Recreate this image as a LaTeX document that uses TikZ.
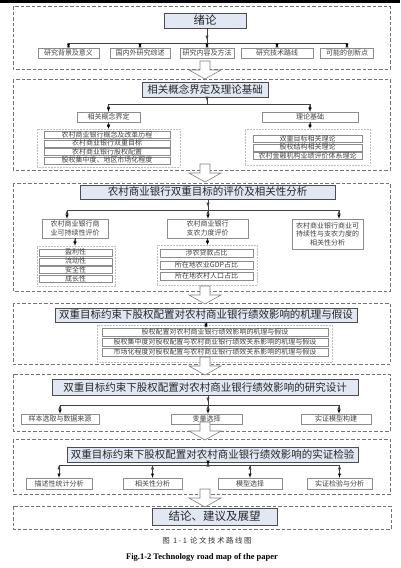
\documentclass[tikz,border=0pt]{standalone}
\usepackage{fontspec}
\setmainfont{Noto Sans CJK SC}
\newfontfamily\figfont{Liberation Serif}
\usetikzlibrary{arrows,decorations.markings}
\definecolor{headfill}{RGB}{226,232,243}
\tikzset{
  >=latex,
  stage/.style = {draw=black!55, dash pattern=on 3.5pt off 2pt, line width=0.6pt},
  headbox/.style = {draw=black!70, fill=headfill, inner sep=0, text=black!85,
                    font=\fontsize{10.5}{12}\selectfont, minimum height=15pt},
  subbox/.style = {draw=black!45, fill=white, inner sep=0, text=black!75,
                   font=\fontsize{7}{8.5}\selectfont, minimum height=10pt, align=center},
  entry/.style = {subbox, minimum height=7pt, text height=5.8pt, text depth=1.2pt},
  cluster/.style = {draw=black!25, dash pattern=on 0.7pt off 0.8pt, fill=white},
  link/.style = {draw=black!75, line width=0.5pt},
  spine/.style = {link, postaction={decorate},
                  decoration={markings, mark=at position -3pt with {\arrow{latex}}}},
  hollow/.pic = {\draw[black!50, fill=white, line width=0.6pt]
                 (-5,0) -- (5,0) -- (5,9) -- (16,9) -- (0,18) -- (-16,9) -- (-5,9) -- cycle;}
}

\begin{document}
\begin{tikzpicture}[x=1pt, y=-1pt]
\useasboundingbox (0,0) rectangle (400,568);
\fill[black] (0,0) rectangle (400,2.5);
% stage 1
\draw[stage] (13,6) rectangle (390,69);
\node[headbox, minimum width=82pt, font=\fontsize{11.5}{13}\selectfont] (t1) at (205,20.5) {绪论};
\coordinate (b1) at (207,43);
\node[subbox, minimum width=61pt] (c11) at (68.5,53) {研究背景及意义};
\node[subbox, minimum width=60pt] (c12) at (140,53) {国内外研究综述};
\node[subbox, minimum width=54pt] (c13) at (207,53) {研究内容及方法};
\node[subbox, minimum width=72pt] (c14) at (277,53) {研究技术路线};
\node[subbox, minimum width=53pt] (c15) at (347,53) {可能的创新点};
\draw[spine] (t1.south -| b1) -- (b1);
\draw[link] (c11 |- b1) -- (c15 |- b1);
\path[link, ->] (c11 |- b1) edge (c11.north);
\path[link, ->] (c12 |- b1) edge (c12.north);
\path[link, ->] (c13 |- b1) edge (c13.north);
\path[link, ->] (c14 |- b1) edge (c14.north);
\path[link, ->] (c15 |- b1) edge (c15.north);
% stage 2
\draw[stage] (13,79) rectangle (390,170);
\node[headbox, minimum width=126pt] (t2) at (205,89.5) {相关概念界定及理论基础};
\coordinate (b2) at (207,104);
\node[subbox, minimum width=63pt] (c21) at (108.5,117) {相关概念界定};
\node[subbox, minimum width=96pt] (c22) at (310,117) {理论基础};
\node[cluster, minimum width=143pt, minimum height=38pt] (g21) at (108.5,148) {};
\node[entry, minimum width=126pt] (i21) at (107,135) {农村商业银行概念及改革历程};
\node[entry, minimum width=126pt] (i22) at (107,143.5) {农村商业银行双重目标};
\node[entry, minimum width=126pt] (i23) at (107,152) {农村商业银行股权配置};
\node[entry, minimum width=126pt] (i24) at (107,160.5) {股权集中度、地区市场化程度};
\node[cluster, minimum width=125pt, minimum height=36pt] (g22) at (307.5,147) {};
\node[entry, minimum width=109pt] (i25) at (307.5,139) {双重目标相关理论};
\node[entry, minimum width=109pt] (i26) at (307.5,147.5) {股权结构相关理论};
\node[entry, minimum width=109pt] (i27) at (307.5,156) {农村金融机构业绩评价体系理论};
\draw[spine] (t2.south -| b2) -- (b2);
\draw[link] (c21 |- b2) -- (c22 |- b2);
\path[link, ->] (c21 |- b2) edge (c21.north);
\path[link, ->] (c22 |- b2) edge (c22.north);
\path[link, ->] (c21.south) edge (c21.south |- g21.north);
\path[link, ->] (c22.south) edge (c22.south |- g22.north);
% stage 3
\draw[stage] (13,183) rectangle (390,291);
\node[headbox, minimum width=255pt, minimum height=14pt] (t3) at (207.5,192) {农村商业银行双重目标的评价及相关性分析};
\coordinate (b3) at (208,210);
\coordinate (b3l) at (67,210);
\coordinate (b3r) at (339,210);
\node[subbox, minimum width=66pt, minimum height=19pt] (c31) at (75,228.5) {农村商业银行商\\业可持续性评价};
\node[subbox, minimum width=81pt, minimum height=19pt] (c32) at (207.5,228.5) {农村商业银行\\支农力度评价};
\node[subbox, minimum width=71pt, minimum height=30pt] (c33) at (327.5,234) {农村商业银行商业可\\持续性与支农力度的\\相关性分析};
\node[cluster, minimum width=78pt, minimum height=40pt] (g31) at (76,266) {};
\node[entry, minimum width=73pt] (i31) at (75.5,252.5) {盈利性};
\node[entry, minimum width=73pt] (i32) at (75.5,261.3) {流动性};
\node[entry, minimum width=73pt] (i33) at (75.5,270) {安全性};
\node[entry, minimum width=73pt] (i34) at (75.5,278.8) {成长性};
\node[cluster, minimum width=100pt, minimum height=40pt] (g32) at (207,265) {};
\node[entry, minimum width=93pt, minimum height=8pt] (i35) at (206.5,253) {涉农贷款占比};
\node[entry, minimum width=93pt, minimum height=8pt] (i36) at (206.5,265) {所在地农业GDP占比};
\node[entry, minimum width=93pt, minimum height=8pt] (i37) at (206.5,276.5) {所在地农村人口占比};
\draw[spine] (t3.south -| b3) -- (b3);
\draw[link] (b3l) -- (b3r);
\path[link, ->] (b3l) edge (b3l |- c31.north);
\path[link, ->] (b3) edge (b3 |- c32.north);
\path[link, ->] (b3r) edge (b3r |- c33.north);
\path[link, ->] (c31.south) edge (c31.south |- g31.north);
\path[link, ->] (c32.south) edge (c32.south |- g32.north);
% stage 4
\draw[stage] (13,303) rectangle (390,364);
\node[headbox, minimum width=302pt, minimum height=14pt] (t4) at (206,315) {双重目标约束下股权配置对农村商业银行绩效影响的机理与假设};
\node[cluster, minimum width=235pt, minimum height=37pt] (g4) at (214.5,343.5) {};
\node[entry, minimum width=226pt, minimum height=8pt] (i41) at (215,332) {股权配置对农村商业银行绩效影响的机理与假设};
\node[entry, minimum width=226pt, minimum height=8pt] (i42) at (215,342) {股权集中度对股权配置与农村商业银行绩效关系影响的机理与假设};
\node[entry, minimum width=226pt, minimum height=8pt] (i43) at (215,352) {市场化程度对股权配置与农村商业银行绩效关系影响的机理与假设};
\path[link, ->] (t4.south) edge (t4.south |- i41.north);
% stage 5
\draw[stage] (13,374) rectangle (390,431);
\node[headbox, minimum width=306pt, minimum height=16pt] (t5) at (205,387) {双重目标约束下股权配置对农村商业银行绩效影响的研究设计};
\coordinate (b5) at (208,405);
\coordinate (b5l) at (60,405);
\coordinate (b5r) at (339,405);
\node[subbox, minimum width=78pt] (c51) at (60,419) {样本选取与数据来源};
\node[subbox, minimum width=71pt] (c52) at (206.5,419) {变量选择};
\node[subbox, minimum width=70pt] (c53) at (336,419) {实证模型构建};
\draw[spine] (t5.south -| b5) -- (b5);
\draw[link] (b5l) -- (b5r);
\path[link, ->] (b5l) edge (b5l |- c51.north);
\path[link, ->] (b5) edge (b5 |- c52.north);
\path[link, ->] (b5r) edge (b5r |- c53.north);
% stage 6
\draw[stage] (13,439) rectangle (390,494);
\node[headbox, minimum width=291pt] (t6) at (212.5,454.5) {双重目标约束下股权配置对农村商业银行绩效影响的实证检验};
\coordinate (b6) at (208,465);
\node[subbox, minimum width=66pt, minimum height=11pt] (c61) at (59,483.5) {描述性统计分析};
\node[subbox, minimum width=59pt, minimum height=11pt] (c62) at (152.5,483.5) {相关性分析};
\node[subbox, minimum width=64pt, minimum height=11pt] (c63) at (250,483.5) {模型选择};
\node[subbox, minimum width=65pt, minimum height=11pt] (c64) at (339.5,483.5) {实证检验与分析};
\path[link, ->] (t6.south -| b6) edge (b6);
\draw[link] (c61 |- b6) -- (c64 |- b6);
\path[link, ->] (c61 |- b6) edge (c61.north);
\path[link, ->] (c62 |- b6) edge (c62.north);
\path[link, ->] (c63 |- b6) edge (c63.north);
\path[link, ->] (c64 |- b6) edge (c64.north);
% stage 7
\draw[stage] (13,506) rectangle (391,529);
\node[headbox, minimum width=125pt, minimum height=17pt, font=\fontsize{11.5}{13}\selectfont] (t7) at (214.5,516.5) {结论、建议及展望};
% block arrows between stages
\pic at (205,61) {hollow};
\pic at (205,164) {hollow};
\pic at (205,286) {hollow};
\pic at (205,357) {hollow};
\pic at (205,422) {hollow};
\pic at (205,489) {hollow};
% captions
\node[font=\fontsize{7.5}{9}\selectfont\addfontfeatures{LetterSpace=20}, text=black!80] (cap) at (207,541) {图 1-1 论文技术路线图};
\node[font=\figfont\bfseries\fontsize{8.5}{10}\selectfont] (capen) at (202,557) {Fig.1-2 Technology road map of the paper};
\end{tikzpicture}
\end{document}
